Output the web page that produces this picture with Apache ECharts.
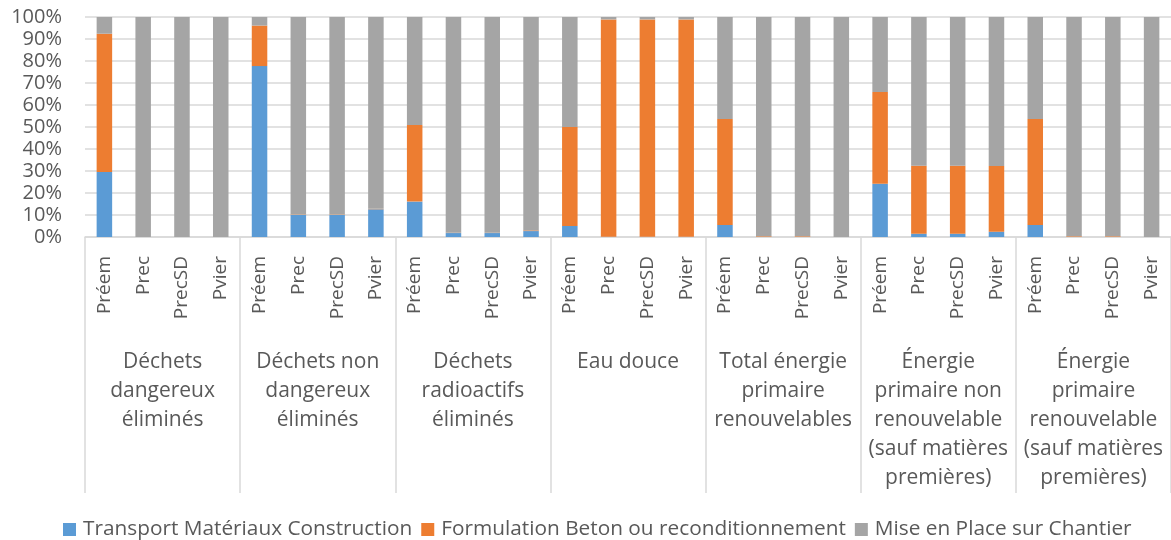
<!DOCTYPE html>
<html>
<head>
<meta charset="utf-8">
<script src="https://cdn.jsdelivr.net/npm/echarts@6/dist/echarts.min.js"></script>
<style>
  html, body { margin: 0; padding: 0; background: #fff; }
  #chart { width: 1171px; height: 540px; }
</style>
</head>
<body>
<div id="chart"></div>
<script>
// Indicator groups (outer axis level)
const groups = [
  'Déchets\ndangereux\néliminés',
  'Déchets non\ndangereux\néliminés',
  'Déchets\nradioactifs\néliminés',
  'Eau douce',
  'Total énergie\nprimaire\nrenouvelables',
  'Énergie\nprimaire non\nrenouvelable\n(sauf matières\npremières)',
  'Énergie\nprimaire\nrenouvelable\n(sauf matières\npremières)'
];
// Scenarios inside each group (inner axis level)
const scenarios = ['Préem', 'Prec', 'PrecSD', 'Pvier'];

// Share of each phase, in %, one value per bar (7 groups x 4 scenarios)
const transport = [
  29.5, 0, 0, 0,
  77.7, 10.0, 10.0, 12.6,
  16.1, 1.8, 1.8, 2.7,
  5.0, 0.1, 0.1, 0.1,
  5.5, 0, 0, 0,
  24.2, 1.5, 1.5, 2.4,
  5.5, 0, 0, 0
];
const formulation = [
  62.9, 0, 0, 0,
  18.4, 0.2, 0.2, 0.2,
  34.8, 0.1, 0.1, 0.3,
  45.0, 98.8, 98.8, 98.8,
  48.1, 0.3, 0.3, 0,
  41.7, 30.9, 30.9, 29.9,
  48.1, 0.3, 0.3, 0
];
const miseEnPlace = [
  7.6, 100, 100, 100,
  3.9, 89.8, 89.8, 87.2,
  49.1, 98.1, 98.1, 97.0,
  50.0, 1.1, 1.1, 1.1,
  46.4, 99.7, 99.7, 100,
  34.1, 67.6, 67.6, 67.7,
  46.4, 99.7, 99.7, 100
];
const seriesNames = [
  'Transport Matériaux Construction',
  'Formulation Beton ou reconditionnement',
  'Mise en Place sur Chantier'
];
const yTicks = [0, 10, 20, 30, 40, 50, 60, 70, 80, 90, 100];

const innerLabels = [];
groups.forEach(() => scenarios.forEach(s => innerLabels.push(s)));

const FONT = '"Open Sans", sans-serif';
const TXT = '#595959';
const GRID = '#d9d9d9';

const chart = echarts.init(document.getElementById('chart'), null, { renderer: 'canvas' });

function bar(name, data, color) {
  return {
    name, type: 'bar', stack: 'total', data,
    xAxisIndex: 0, yAxisIndex: 0,
    barWidth: '40%',
    itemStyle: { color },
    emphasis: { disabled: true }
  };
}

chart.setOption({
  animation: false,
  textStyle: { fontFamily: FONT },
  grid: { left: 85, right: 0, top: 17, bottom: 303, containLabel: false },
  legend: {
    data: seriesNames,
    top: 514, left: 58,
    icon: 'rect', itemWidth: 13, itemHeight: 13, itemGap: 9,
    textStyle: { fontFamily: FONT, fontSize: 20.8, color: TXT, padding: [0, 0, 0, 2] },
    selectedMode: false
  },
  xAxis: [
    {
      type: 'category', data: innerLabels, position: 'bottom',
      axisLine: { show: true, lineStyle: { color: GRID, width: 1.5 } },
      axisTick: { show: false },
      axisLabel: {
        interval: 0, rotate: 90, margin: 19,
        fontFamily: FONT, fontSize: 19, color: TXT
      }
    },
    {
      type: 'category', data: groups, position: 'bottom',
      axisLine: { show: false },
      axisTick: { show: true, interval: 0, length: 256, lineStyle: { color: GRID, width: 1.5 } },
      axisLabel: {
        interval: 0, margin: 111,
        fontFamily: FONT, fontSize: 21, color: TXT, lineHeight: 29, align: 'center'
      }
    }
  ],
  yAxis: {
    type: 'value', min: yTicks[0], max: yTicks[yTicks.length - 1], interval: 10,
    axisLine: { show: false }, axisTick: { show: false },
    splitLine: { lineStyle: { color: GRID, width: 1.5 } },
    axisLabel: {
      margin: 23, fontFamily: FONT, fontSize: 20, color: TXT,
      formatter: v => v + '%'
    }
  },
  series: [
    bar(seriesNames[0], transport, '#5B9BD5'),
    bar(seriesNames[1], formulation, '#ED7D31'),
    bar(seriesNames[2], miseEnPlace, '#A5A5A5')
  ]
});
</script>
</body>
</html>
